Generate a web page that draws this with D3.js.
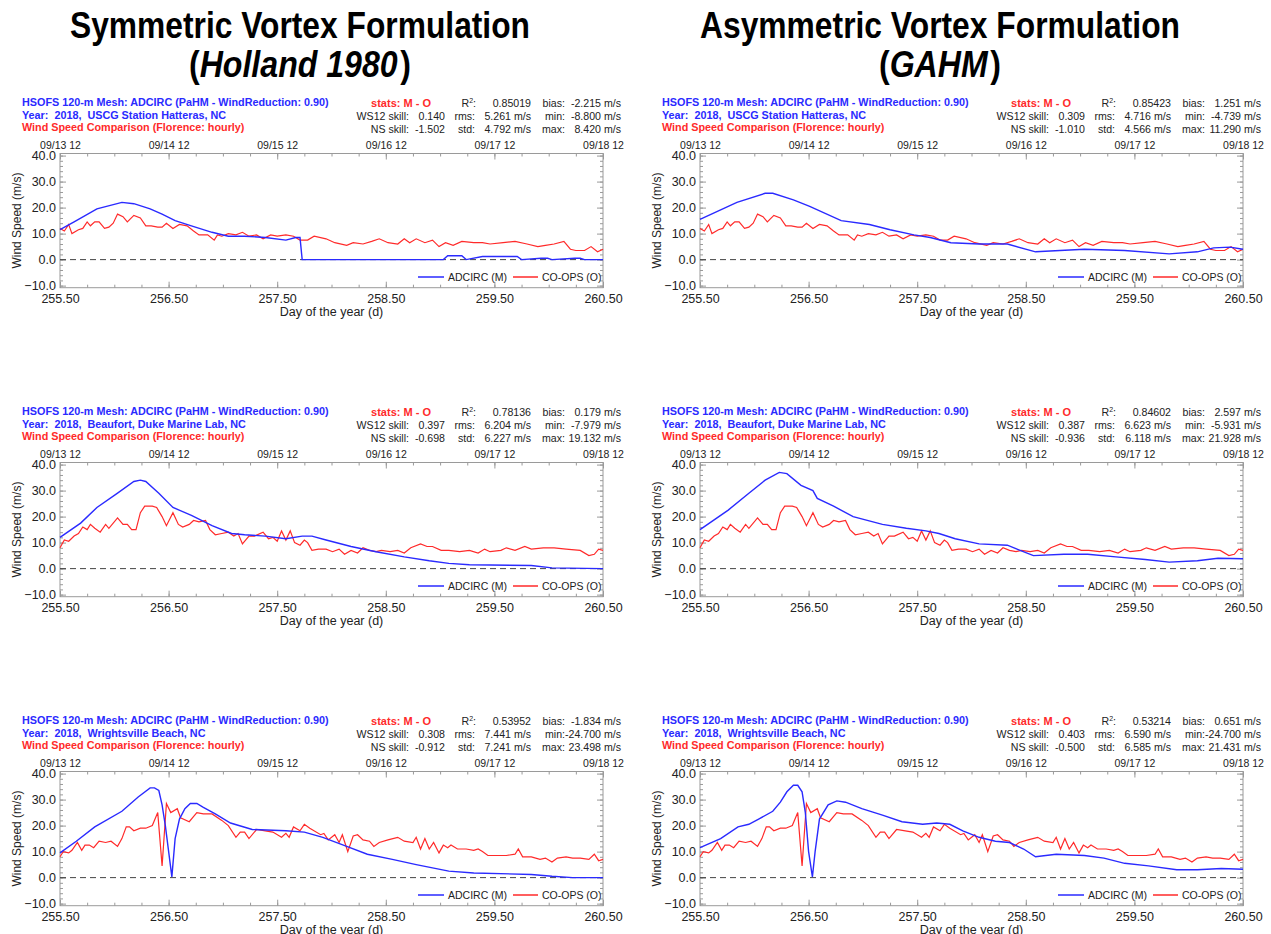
<!DOCTYPE html>
<html>
<head>
<meta charset="utf-8">
<script src="https://cdn.jsdelivr.net/npm/d3@7"></script>
<style>
  body { margin: 0; background: #fff; }
  svg text { font-family: "Liberation Sans", Arial, sans-serif; white-space: pre; }
</style>
</head>
<body>
<div id="chart"></div>
<script>
// ---- data ----
var dayTicks = [255.5, 256.5, 257.5, 258.5, 259.5, 260.5];
var dayLabels = ["255.50", "256.50", "257.50", "258.50", "259.50", "260.50"];
var dateLabels = ["09/13 12", "09/14 12", "09/15 12", "09/16 12", "09/17 12", "09/18 12"];
var yTicks = [-10, 0, 10, 20, 30, 40];

var columnTitles = [
  ["Symmetric Vortex Formulation", "Holland 1980"],
  ["Asymmetric Vortex Formulation", "GAHM"]
];
var stations = ["USCG Station Hatteras, NC", "Beaufort, Duke Marine Lab, NC", "Wrightsville Beach, NC"];

// CO-OPS observations (day, m/s)
var obsHatteras = [[255.5,12],[255.54,11],[255.58,13.5],[255.61,10],[255.67,11.5],[255.71,12],[255.75,14.5],[255.78,13],[255.82,14.5],[255.86,14.5],[255.91,12],[255.95,12.5],[255.99,14],[256.03,17.5],[256.08,16.5],[256.12,14.5],[256.18,17],[256.24,16],[256.29,13],[256.34,13],[256.4,12.5],[256.44,12.5],[256.48,14],[256.54,12],[256.6,13.5],[256.67,13],[256.73,11],[256.78,9.5],[256.86,9.5],[256.92,7.5],[256.95,9.5],[256.99,9],[257.05,10],[257.12,9.5],[257.18,10.5],[257.24,9],[257.31,9.5],[257.37,8],[257.44,9.5],[257.5,9],[257.58,9.5],[257.65,9],[257.71,7.5],[257.78,7.5],[257.84,9],[257.95,8],[258.03,6.5],[258.14,5.5],[258.2,6.5],[258.29,6],[258.37,7],[258.44,8],[258.52,6.5],[258.61,6],[258.67,8],[258.72,6.5],[258.78,8],[258.86,6.5],[258.93,7.5],[258.99,5],[259.05,6.5],[259.12,5.5],[259.2,7],[259.31,6.5],[259.39,6.5],[259.46,6],[259.58,6.5],[259.69,7],[259.8,6],[259.9,5],[259.97,5.5],[260.05,6],[260.14,7],[260.2,4],[260.25,3.5],[260.33,3.5],[260.39,5],[260.45,3],[260.5,4]];
var obsBeaufort = [[255.5,8],[255.54,11],[255.58,10.5],[255.63,12.5],[255.67,13.5],[255.71,16],[255.75,15],[255.78,17],[255.82,15.5],[255.87,14],[255.92,17],[255.95,15.5],[256.03,19.5],[256.08,17],[256.12,17],[256.16,15],[256.2,15],[256.24,21.5],[256.28,24],[256.35,24],[256.39,23.5],[256.44,20],[256.48,16.5],[256.54,21.5],[256.59,17],[256.63,16],[256.69,17],[256.73,18.5],[256.78,18],[256.84,18.5],[256.88,15],[256.93,13],[256.99,13.5],[257.05,14],[257.1,12.5],[257.14,13.5],[257.18,9.5],[257.24,12.5],[257.29,12.5],[257.37,14],[257.42,11.5],[257.46,12],[257.5,10.5],[257.54,14.5],[257.58,11],[257.62,14.5],[257.66,10],[257.71,9],[257.75,11],[257.78,10],[257.82,7],[257.88,7.5],[257.95,7.5],[258.01,6.5],[258.07,7.5],[258.12,5.5],[258.18,7],[258.24,6],[258.29,8],[258.35,7],[258.41,6.5],[258.46,7],[258.54,6.5],[258.61,7],[258.67,6],[258.73,8],[258.82,9.5],[258.88,8.5],[258.93,8.5],[259.01,7],[259.08,7],[259.18,6.5],[259.27,7],[259.35,6],[259.41,7.5],[259.46,6.5],[259.56,7],[259.61,8],[259.69,7],[259.78,8.5],[259.84,7.5],[259.95,8],[260.05,8],[260.16,7.5],[260.29,7],[260.37,5],[260.42,5.5],[260.46,7.5],[260.5,7]];
var obsWrightsville = [[255.5,8],[255.53,10],[255.58,9.5],[255.61,10.5],[255.66,13.5],[255.7,10.5],[255.73,12.5],[255.77,12.5],[255.81,11.5],[255.86,14],[255.92,13.5],[255.97,14],[256.03,12],[256.07,15],[256.11,19.5],[256.14,19.5],[256.18,18],[256.24,19],[256.29,19],[256.35,20],[256.4,25],[256.44,4.5],[256.48,28.5],[256.52,25],[256.58,26.5],[256.61,23],[256.69,21.5],[256.76,25],[256.82,24.5],[256.9,24.5],[256.99,22],[257.05,20],[257.12,15.5],[257.16,17.5],[257.2,17.5],[257.24,15],[257.31,18.5],[257.39,18],[257.46,17.5],[257.54,15.5],[257.58,17],[257.61,15.5],[257.65,19.5],[257.71,18],[257.75,20.5],[257.8,19],[257.9,16.5],[257.93,17],[257.97,14.5],[258.03,16.5],[258.07,13.5],[258.1,16.5],[258.15,10],[258.2,16],[258.24,16.5],[258.29,14.5],[258.35,14],[258.39,12],[258.44,13.5],[258.52,14.5],[258.61,15.5],[258.67,14],[258.75,13.5],[258.78,15.5],[258.82,11],[258.86,15],[258.9,11],[258.94,13.5],[258.99,9.5],[259.03,12.5],[259.07,11.5],[259.1,12.5],[259.16,11],[259.24,11],[259.31,10.5],[259.35,11],[259.39,10],[259.44,8.5],[259.52,8.5],[259.61,8.5],[259.69,9],[259.72,11],[259.76,8],[259.84,8],[259.92,7],[259.97,7.5],[260.03,6],[260.08,7.5],[260.16,8],[260.22,7.5],[260.29,7.5],[260.37,7],[260.42,9],[260.46,6.5],[260.5,7]];

// ADCIRC model, symmetric (Holland 1980)
var symHatteras = [[255.5,11.5],[255.63,14.5],[255.84,19.5],[256.07,22],[256.18,21.5],[256.33,19.5],[256.44,17.5],[256.56,15],[256.71,13],[256.9,10.5],[257.05,9],[257.2,9],[257.39,8.5],[257.58,7.5],[257.67,8.5],[257.71,8.5],[257.73,0],[259.03,0],[259.07,1.5],[259.2,1.5],[259.24,0],[259.39,1.2],[259.71,1.2],[259.75,0],[259.93,0.5],[259.99,0.5],[260.03,0],[260.24,0.5],[260.29,0.5],[260.33,0],[260.5,0]];
var symBeaufort = [[255.5,12],[255.69,17.5],[255.84,23.5],[256.03,29],[256.18,33.5],[256.24,34],[256.29,33.5],[256.41,29],[256.54,23.5],[256.71,20.5],[256.9,16.5],[257.08,13.5],[257.2,13],[257.39,12.5],[257.58,11.5],[257.73,12.5],[257.82,12.5],[257.95,11],[258.18,8.5],[258.41,6.5],[258.67,4.5],[258.9,3],[259.08,2],[259.27,1.5],[259.84,1.2],[260.03,0.3],[260.5,0]];
var symWrightsville = [[255.5,9.5],[255.65,14],[255.82,19.5],[256.07,25.5],[256.22,31],[256.33,34.5],[256.37,34.5],[256.41,33.5],[256.44,28],[256.47,20],[256.53,0.3],[256.56,15],[256.6,22.5],[256.65,26.5],[256.7,28.5],[256.76,28.5],[256.82,27],[256.93,24.5],[257.07,21],[257.27,18.5],[257.58,18],[257.75,17.5],[257.92,15.5],[258.14,12],[258.33,9],[258.56,7],[258.78,5],[259.08,2.5],[259.31,1.8],[259.84,1.2],[260.03,0.5],[260.22,0],[260.5,0]];

// ADCIRC model, asymmetric (GAHM)
var gahmHatteras = [[255.5,15.5],[255.84,22],[256.1,25.5],[256.17,25.5],[256.36,23],[256.51,20.5],[256.8,15],[257.06,13.5],[257.25,11.5],[257.47,9.5],[257.62,8.5],[257.81,6.5],[258.07,6],[258.33,6],[258.59,3],[259.04,4],[259.41,3.5],[259.82,2.2],[260.08,3],[260.23,4.5],[260.38,4.8],[260.5,4]];
var gahmBeaufort = [[255.5,15],[255.76,22.5],[255.95,29],[256.1,34],[256.23,37],[256.3,36.5],[256.43,32],[256.54,30],[256.58,27],[256.73,24],[256.91,20],[257.18,17],[257.4,15.5],[257.58,14.5],[257.7,13.5],[257.85,11.5],[258.07,9.5],[258.33,9],[258.57,5],[258.85,5.5],[259.07,5.5],[259.33,4.5],[259.6,3.5],[259.82,2.5],[260.08,3],[260.27,4],[260.5,3.8]];
var gahmWrightsville = [[255.5,11.5],[255.69,15],[255.85,19.5],[255.95,20.5],[256.04,22.5],[256.17,25.5],[256.24,29],[256.3,33],[256.36,35.5],[256.4,35.5],[256.44,33],[256.47,25],[256.5,10],[256.535,0.3],[256.56,10],[256.6,22.5],[256.68,28],[256.76,29.5],[256.84,29],[256.99,26.5],[257.18,24],[257.36,21.5],[257.55,20.5],[257.68,21],[257.8,20.5],[257.92,18],[258.07,15.5],[258.22,14],[258.35,13.5],[258.48,11],[258.59,8],[258.78,9],[259.04,8.5],[259.22,7.5],[259.41,5.5],[259.63,4.5],[259.89,3],[260.08,3],[260.3,3.5],[260.5,3.2]];

// statistics [R2, bias, WS12, rms, min, NS, std, max]
var statsSym = [
  ["0.85019", "-2.215", "0.140", "5.261", "-8.800", "-1.502", "4.792", "8.420"],
  ["0.78136", "0.179", "0.397", "6.204", "-7.979", "-0.698", "6.227", "19.132"],
  ["0.53952", "-1.834", "0.308", "7.441", "-24.700", "-0.912", "7.241", "23.498"]
];
var statsGahm = [
  ["0.85423", "1.251", "0.309", "4.716", "-4.739", "-1.010", "4.566", "11.290"],
  ["0.84602", "2.597", "0.387", "6.623", "-5.931", "-0.936", "6.118", "21.928"],
  ["0.53214", "0.651", "0.403", "6.590", "-24.700", "-0.500", "6.585", "21.431"]
];

var observations = [obsHatteras, obsBeaufort, obsWrightsville];
var models = [[symHatteras, symBeaufort, symWrightsville], [gahmHatteras, gahmBeaufort, gahmWrightsville]];
var stats = [statsSym, statsGahm];

// ---- layout ----
var width = 1271, height = 934;
var colOffset = 640, rowOffset = 309;
var plot = { left: 60, right: 603, top: 153.5, bottom: 287.7 };
var blue = "#2a2aff", red = "#ff2a2a", axisGray = "#9a9a9a", ink = "#222";

var svg = d3.select("#chart").append("svg")
  .attr("width", width).attr("height", height);

// column titles
columnTitles.forEach(function (t, c) {
  var cx = 300 + c * colOffset;
  svg.append("text")
    .attr("x", cx).attr("y", 38)
    .attr("text-anchor", "middle")
    .attr("font-size", 36).attr("font-weight", "bold")
    .attr("textLength", c === 0 ? 460 : 480).attr("lengthAdjust", "spacingAndGlyphs")
    .text(t[0]);
  var t2 = svg.append("text")
    .attr("x", cx).attr("y", 77)
    .attr("text-anchor", "middle")
    .attr("font-size", 36).attr("font-weight", "bold")
    .attr("textLength", c === 0 ? 222 : 122).attr("lengthAdjust", "spacingAndGlyphs");
  t2.append("tspan").text("(");
  t2.append("tspan").attr("font-style", "italic").text(t[1]);
  t2.append("tspan").attr("dx", 3).text(")");
});

var x = d3.scaleLinear().domain([255.5, 260.5]).range([plot.left, plot.right]);
var y = d3.scaleLinear().domain([-10.8, 40.8]).range([plot.bottom, plot.top]);

var line = d3.line()
  .x(function (d) { return x(d[0]); })
  .y(function (d) { return y(d[1]); });

function drawPanel(g, station, obs, model, st) {
  // header, left block
  var hdr = [
    { t: "HSOFS 120-m Mesh: ADCIRC (PaHM - WindReduction: 0.90)", c: blue, y: 106 },
    { t: "Year:  2018,  " + station, c: blue, y: 118.5 },
    { t: "Wind Speed Comparison (Florence: hourly)", c: red, y: 131 }
  ];
  hdr.forEach(function (h) {
    g.append("text").attr("x", 22).attr("y", h.y)
      .attr("font-size", 10.8).attr("font-weight", "bold")
      .attr("fill", h.c).text(h.t);
  });

  // header, stats block
  var sy = 107, fs = 10.6;
  g.append("text").attr("x", 431).attr("y", sy).attr("text-anchor", "end")
    .attr("font-size", 11).attr("font-weight", "bold").attr("fill", red)
    .text("stats: M - O");
  var r2 = g.append("text").attr("x", 476).attr("y", sy).attr("text-anchor", "end")
    .attr("font-size", fs).attr("fill", ink);
  r2.append("tspan").text("R");
  r2.append("tspan").attr("dy", -4).attr("font-size", 7).text("2");
  r2.append("tspan").attr("dy", 4).text(":");

  var cells = [
    [null, null, [531, st[0]], [565, "bias:"], [621, st[1] + " m/s"]],
    [[409, "WS12 skill:"], [445, st[2]], [475, "rms:"], [531, st[3] + " m/s"], [565, "min:"], [621, st[4] + " m/s"]],
    [[409, "NS skill:"], [445, st[5]], [475, "std:"], [531, st[6] + " m/s"], [565, "max:"], [621, st[7] + " m/s"]]
  ];
  cells.forEach(function (row, i) {
    row.forEach(function (cell) {
      if (!cell) return;
      g.append("text").attr("x", cell[0]).attr("y", sy + i * 12.8)
        .attr("text-anchor", "end").attr("font-size", fs).attr("fill", ink)
        .text(cell[1]);
    });
  });

  // frame
  g.append("rect")
    .attr("x", plot.left).attr("y", plot.top)
    .attr("width", plot.right - plot.left).attr("height", plot.bottom - plot.top)
    .attr("fill", "none").attr("stroke", axisGray).attr("stroke-width", 1);

  var minorX = d3.range(255.5, 260.51, 0.25);
  var minorY = d3.range(-10, 40.1, 2);

  function styleAxis(a) {
    a.select(".domain").remove();
    a.selectAll(".tick line").attr("stroke", axisGray);
    a.selectAll(".tick text").attr("fill", ink)
      .attr("font-family", "Liberation Sans, Arial, sans-serif");
  }

  // bottom axis
  g.append("g").attr("transform", "translate(0," + plot.bottom + ")")
    .call(d3.axisBottom(x).tickValues(minorX).tickSize(-3).tickFormat(""))
    .call(styleAxis);
  g.append("g").attr("transform", "translate(0," + plot.bottom + ")")
    .call(d3.axisBottom(x).tickValues(dayTicks).tickSize(-6).tickPadding(6)
      .tickFormat(function (d, i) { return dayLabels[i]; }))
    .call(styleAxis)
    .selectAll(".tick text").attr("font-size", 12.5);

  // top axis
  g.append("g").attr("transform", "translate(0," + plot.top + ")")
    .call(d3.axisTop(x).tickValues(minorX).tickSize(-3).tickFormat(""))
    .call(styleAxis);
  g.append("g").attr("transform", "translate(0," + plot.top + ")")
    .call(d3.axisTop(x).tickValues(dayTicks).tickSize(-6).tickPadding(4.5)
      .tickFormat(function (d, i) { return dateLabels[i]; }))
    .call(styleAxis)
    .selectAll(".tick text").attr("font-size", 10.5);

  // left axis
  g.append("g").attr("transform", "translate(" + plot.left + ",0)")
    .call(d3.axisLeft(y).tickValues(minorY).tickSize(-3).tickFormat(""))
    .call(styleAxis);
  g.append("g").attr("transform", "translate(" + plot.left + ",0)")
    .call(d3.axisLeft(y).tickValues(yTicks).tickSize(-6).tickPadding(4)
      .tickFormat(d3.format(".1f")))
    .call(styleAxis)
    .selectAll(".tick text").attr("font-size", 12.5);

  // right axis
  g.append("g").attr("transform", "translate(" + plot.right + ",0)")
    .call(d3.axisRight(y).tickValues(minorY).tickSize(-3).tickFormat(""))
    .call(styleAxis);
  g.append("g").attr("transform", "translate(" + plot.right + ",0)")
    .call(d3.axisRight(y).tickValues(yTicks).tickSize(-6).tickFormat(""))
    .call(styleAxis);

  // axis titles
  g.append("text")
    .attr("transform", "translate(21," + ((plot.top + plot.bottom) / 2) + ") rotate(-90)")
    .attr("text-anchor", "middle").attr("font-size", 12).attr("fill", ink)
    .text("Wind Speed (m/s)");
  g.append("text")
    .attr("x", (plot.left + plot.right) / 2).attr("y", 316)
    .attr("text-anchor", "middle").attr("font-size", 12.5).attr("fill", ink)
    .text("Day of the year (d)");

  // zero line
  g.append("line")
    .attr("x1", plot.left).attr("x2", plot.right)
    .attr("y1", y(0)).attr("y2", y(0))
    .attr("stroke", "#444").attr("stroke-width", 1)
    .attr("stroke-dasharray", "6,4");

  // series
  g.append("path").datum(obs)
    .attr("d", line).attr("fill", "none")
    .attr("stroke", red).attr("stroke-width", 1.2);
  g.append("path").datum(model)
    .attr("d", line).attr("fill", "none")
    .attr("stroke", blue).attr("stroke-width", 1.4);

  // legend
  var ly = 277;
  var legend = [
    { c: blue, t: "ADCIRC (M)", x0: 418, x1: 444 },
    { c: red, t: "CO-OPS (O)", x0: 513, x1: 538 }
  ];
  legend.forEach(function (l) {
    g.append("line").attr("x1", l.x0).attr("x2", l.x1)
      .attr("y1", ly).attr("y2", ly)
      .attr("stroke", l.c).attr("stroke-width", 1.5);
    g.append("text").attr("x", l.x1 + 4).attr("y", ly + 3.5)
      .attr("font-size", 10.5).attr("fill", ink).text(l.t);
  });
}

for (var c = 0; c < 2; c++) {
  for (var r = 0; r < 3; r++) {
    var g = svg.append("g")
      .attr("transform", "translate(" + (c * colOffset) + "," + (r * rowOffset) + ")");
    drawPanel(g, stations[r], observations[r], models[c][r], stats[c][r]);
  }
}
</script>
</body>
</html>
